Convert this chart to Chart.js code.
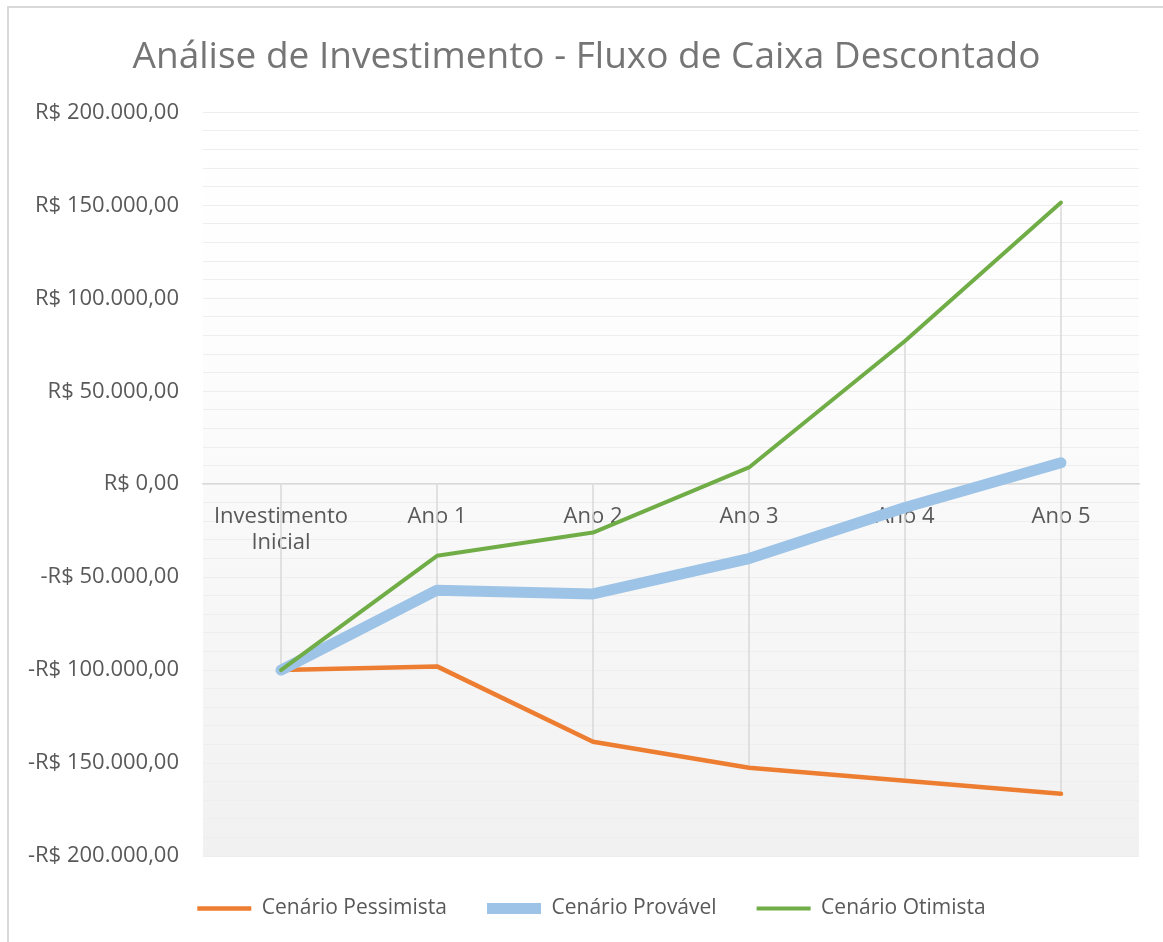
<!DOCTYPE html>
<html>
<head>
<meta charset="utf-8">
<script src="https://cdn.jsdelivr.net/npm/chart.js@4/dist/chart.umd.min.js"></script>
<style>
  html, body { margin: 0; padding: 0; background: #fff; overflow: hidden; }
  #frame { position: absolute; left: 7px; top: 6px; width: 1300px; height: 1100px; border: 2px solid #d9d9d9; box-sizing: border-box; }
  #wrap { position: absolute; left: 0; top: 0; width: 1163px; height: 942px; }
</style>
</head>
<body>
<div id="frame"></div>
<div id="wrap"><canvas id="c" width="1163" height="942"></canvas></div>
<script>
const categories = [['Investimento', 'Inicial'], 'Ano 1', 'Ano 2', 'Ano 3', 'Ano 4', 'Ano 5'];
const pessimista = [-100000, -98000, -138500, -152500, -159500, -166500];
const provavel = [-100000, -57000, -59000, -40000, -12500, 11500];
const otimista = [-100000, -38500, -26000, 9000, 77000, 151500];
const yTickMin = -200000;
const yTickMax = 200000;
const yMinorStep = 10000;
const yLabelStep = 50000;

function fmtBRL(v) {
  const neg = v < 0;
  const s = Math.abs(Math.round(v)).toString().replace(/\B(?=(\d{3})+(?!\d))/g, '.');
  return (neg ? '-' : '') + 'R$ ' + s + ',00';
}

const FONT = "'Open Sans', sans-serif";
const TXT = '#595959';

const bgPlugin = {
  id: 'plotBg',
  afterLayout(chart) {
    // nudge legend and title horizontally to match the reference centering
    if (chart.legend) { chart.legend.left += 17; chart.legend.right += 17; }
    if (chart.titleBlock) { chart.titleBlock.left += 12; chart.titleBlock.right += 12; }
  },
  beforeDraw(chart) {
    const a = chart.chartArea, ctx = chart.ctx;
    const g = ctx.createLinearGradient(0, a.top, 0, a.bottom);
    g.addColorStop(0, '#ffffff');
    g.addColorStop(0.3, '#fdfdfd');
    g.addColorStop(1, '#f1f1f1');
    ctx.save();
    ctx.fillStyle = g;
    ctx.fillRect(a.left, a.top, a.right - a.left, a.bottom - a.top);
    ctx.restore();
  }
};

const dropPlugin = {
  id: 'dropLines',
  beforeDatasetsDraw(chart) {
    const x = chart.scales.x, y = chart.scales.y, ctx = chart.ctx;
    ctx.save();
    ctx.strokeStyle = '#d9d9d9';
    ctx.lineWidth = 1.5;
    categories.forEach((c, i) => {
      const vals = [0, pessimista[i], provavel[i], otimista[i]];
      const px = x.getPixelForValue(i);
      ctx.beginPath();
      ctx.moveTo(px, y.getPixelForValue(Math.max(...vals)));
      ctx.lineTo(px, y.getPixelForValue(Math.min(...vals)));
      ctx.stroke();
    });
    ctx.restore();
  }
};

new Chart(document.getElementById('c'), {
  type: 'line',
  data: {
    labels: categories,
    datasets: [
      { label: 'Cenário Pessimista', data: pessimista, borderColor: '#ED7D31', backgroundColor: '#ED7D31', borderWidth: 4.5, pointRadius: 0, tension: 0, borderJoinStyle: 'round', borderCapStyle: 'round', order: 3 },
      { label: 'Cenário Provável', data: provavel, borderColor: '#9DC3E6', backgroundColor: '#9DC3E6', borderWidth: 11, pointRadius: 0, tension: 0, borderJoinStyle: 'round', borderCapStyle: 'round', order: 2 },
      { label: 'Cenário Otimista', data: otimista, borderColor: '#70AD47', backgroundColor: '#70AD47', borderWidth: 4, pointRadius: 0, tension: 0, borderJoinStyle: 'round', borderCapStyle: 'round', order: 1 }
    ]
  },
  options: {
    responsive: false,
    animation: false,
    layout: { padding: { top: 18, right: 24, bottom: 13, left: 10 } },
    plugins: {
      title: {
        display: true,
        text: 'Análise de Investimento - Fluxo de Caixa Descontado',
        color: '#757575',
        font: { family: FONT, size: 37, weight: 'normal' },
        padding: { top: 17, bottom: 33 }
      },
      legend: {
        position: 'bottom',
        title: { display: true, text: ' ', font: { size: 2, lineHeight: 1 }, padding: 0 },
        labels: {
          usePointStyle: true,
          pointStyle: 'line',
          pointStyleWidth: 54,
          boxHeight: 10,
          color: TXT,
          font: { family: FONT, size: 21 },
          padding: 40,
          sort: (a, b) => a.datasetIndex - b.datasetIndex
        }
      },
      tooltip: { enabled: false }
    },
    scales: {
      x: {
        type: 'category',
        position: { y: 0 },
        offset: true,
        grid: { display: false, drawTicks: false },
        border: { display: true, color: '#d9d9d9', width: 1.5 },
        ticks: { color: TXT, font: { family: FONT, size: 22 }, padding: 19, maxRotation: 0, autoSkip: false }
      },
      y: {
        min: yTickMin,
        max: yTickMax,
        grid: { color: '#eeeeee', lineWidth: 1, drawTicks: false },
        border: { display: false },
        ticks: {
          stepSize: yMinorStep,
          autoSkip: false,
          color: TXT,
          font: { family: FONT, size: 22 },
          padding: 24,
          callback: (v) => (v % yLabelStep === 0 ? fmtBRL(v) : '')
        },
        afterFit(s) { s.width = 193; }
      }
    }
  },
  plugins: [bgPlugin, dropPlugin]
});
</script>
</body>
</html>
